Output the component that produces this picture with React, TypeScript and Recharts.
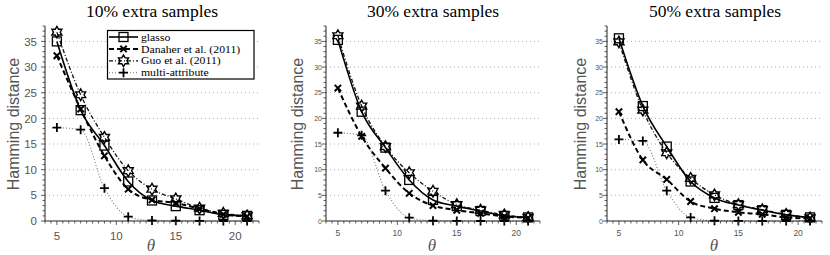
import React from 'react';
import { LineChart, Line, XAxis, YAxis, ReferenceLine } from 'recharts';

// theta values where the markers sit
const theta = [5, 7, 9, 11, 13, 15, 17, 19, 21];

// 10% extra samples
const glasso10 = [35.0, 21.6, 14.7, 7.7, 4.0, 2.9, 2.1, 1.2, 1.0];
const danaher10 = [32.2, 21.8, 12.7, 6.2, 4.1, 3.5, 2.4, 1.3, 0.9];
const guo10 = [36.8, 24.6, 16.3, 9.8, 6.2, 4.3, 2.5, 1.5, 1.0];
const multi10 = [18.2, 17.8, 6.4, 0.85, 0.1, 0.05, 0.02, 0, 0];

// 30% extra samples
const glasso30 = [35.3, 21.3, 14.3, 8.0, 4.1, 2.9, 1.95, 1.0, 0.7];
const danaher30 = [25.9, 16.5, 10.3, 5.4, 3.0, 2.1, 1.5, 0.9, 0.6];
const guo30 = [36.1, 22.4, 14.5, 9.4, 5.8, 3.2, 2.1, 1.2, 0.7];
const multi30 = [17.2, 16.7, 5.9, 0.65, 0.05, 0.02, 0, 0, 0];

// 50% extra samples
const glasso50 = [35.6, 22.4, 14.5, 7.7, 4.5, 3.1, 2.1, 1.2, 0.7];
const danaher50 = [21.3, 11.9, 8.1, 3.8, 2.4, 1.7, 1.3, 0.7, 0.5];
const guo50 = [34.9, 21.6, 13.3, 8.3, 5.1, 3.2, 2.2, 1.3, 0.6];
const multi50 = [15.9, 15.6, 5.9, 0.7, 0.05, 0.02, 0, 0, 0];

const titles = ['10% extra samples', '30% extra samples', '50% extra samples'];
const legendNames = ['glasso', 'Danaher et al. (2011)', 'Guo et al. (2011)', 'multi-attribute'];

const xLabelTicks = [5, 10, 15, 20];
const yLabelTicks = [0, 5, 10, 15, 20, 25, 30, 35];
const gridValues = [5, 10, 15, 20, 25, 30, 35];

const xMinor: number[] = [];
for (let v = 4; v <= 22; v += 0.5) xMinor.push(v);
const yMinor: number[] = [];
for (let v = 0; v <= 38; v += 1) yMinor.push(v);

const rows = (g: number[], d: number[], u: number[], m: number[]) =>
  theta.map((t, i) => ({ theta: t, glasso: g[i], danaher: d[i], guo: u[i], multi: m[i] }));

const panels = [
  { data: rows(glasso10, danaher10, guo10, multi10), left: 0, width: 280, ml: 25, mr: 21, big: true },
  { data: rows(glasso30, danaher30, guo30, multi30), left: 280, width: 280, ml: 26, mr: 20, big: false },
  { data: rows(glasso50, danaher50, guo50, multi50), left: 555, width: 275, ml: 32, mr: 8, big: false },
];

const SERIF = '"Liberation Serif", "Times New Roman", serif';
const SANS = '"Liberation Sans", Arial, sans-serif';

const hexPath = (cx: number, cy: number, R: number) => {
  const r = R / Math.sqrt(3);
  let d = '';
  for (let i = 0; i < 12; i++) {
    const a = ((-90 + i * 30) * Math.PI) / 180;
    const rr = i % 2 === 0 ? R : r;
    d += (i === 0 ? 'M' : 'L') + (cx + rr * Math.cos(a)).toFixed(2) + ',' + (cy + rr * Math.sin(a)).toFixed(2);
  }
  return d + 'Z';
};

const Marker = ({ kind, cx, cy }: { kind: string; cx: number; cy: number }) => {
  if (kind === 'square')
    return <rect x={cx - 4.5} y={cy - 4.5} width={9} height={9} fill="none" stroke="#000" strokeWidth={1.3} />;
  if (kind === 'x')
    return (
      <path d={`M${cx - 3.2},${cy - 3.2}L${cx + 3.2},${cy + 3.2}M${cx - 3.2},${cy + 3.2}L${cx + 3.2},${cy - 3.2}`} stroke="#000" strokeWidth={2} />
    );
  if (kind === 'star') return <path d={hexPath(cx, cy, 5.8)} fill="none" stroke="#000" strokeWidth={1.4} />;
  return <path d={`M${cx - 4.5},${cy}L${cx + 4.5},${cy}M${cx},${cy - 4.5}L${cx},${cy + 4.5}`} stroke="#000" strokeWidth={1.8} />;
};

const dotFor = (kind: string) => (p: any) => {
  if (p.cx == null || p.cy == null) return <g key={p.index} />;
  return (
    <g key={p.index}>
      <Marker kind={kind} cx={p.cx} cy={p.cy} />
    </g>
  );
};

const series = [
  { key: 'multi', kind: 'plus', stroke: '#777', width: 1.1, dash: '1 2' },
  { key: 'guo', kind: 'star', stroke: '#111', width: 1.3, dash: '4 2 1 2' },
  { key: 'danaher', kind: 'x', stroke: '#000', width: 2, dash: '5 3' },
  { key: 'glasso', kind: 'square', stroke: '#000', width: 1.6, dash: undefined },
];

const YTick = (props: any) => {
  const { x, y, payload, fs, gap } = props;
  const v = payload.value;
  const labeled = yLabelTicks.includes(v);
  return (
    <g>
      <line x1={x - (labeled ? 4 : 2.5)} x2={x} y1={y} y2={y} stroke="#333" strokeWidth={0.8} />
      {labeled && (
        <text x={x - gap} y={y} dy="0.36em" textAnchor="end" fontSize={fs} fill="#555" fontFamily={SANS}>
          {v}
        </text>
      )}
    </g>
  );
};

const XTick = (props: any) => {
  const { x, y, payload, fs, off } = props;
  const v = payload.value;
  const labeled = xLabelTicks.includes(v);
  return (
    <g>
      <line x1={x} x2={x} y1={y} y2={y + (labeled ? 4 : 2.5)} stroke="#333" strokeWidth={0.8} />
      {labeled && (
        <text x={x} y={y + off} textAnchor="middle" fontSize={fs} fill="#555" fontFamily={SANS}>
          {v}
        </text>
      )}
    </g>
  );
};

const Panel = ({ p }: { p: (typeof panels)[number] }) => (
  <div style={{ position: 'absolute', left: p.left, top: 0 }}>
    <LineChart width={p.width} height={255} data={p.data} margin={{ top: 26, right: p.mr, bottom: 4, left: p.ml }}>
      {gridValues.map((g) => (
        <ReferenceLine key={g} y={g} stroke="#aaa" strokeWidth={1} strokeDasharray="1 3" />
      ))}
      <XAxis
        dataKey="theta"
        type="number"
        domain={[4, 22]}
        ticks={xMinor}
        interval={0}
        height={30}
        tickSize={0}
        tickMargin={0}
        tickLine={false}
        axisLine={{ stroke: '#222', strokeWidth: 1 }}
        tick={<XTick fs={p.big ? 11.5 : 8.5} off={p.big ? 19 : 15} />}
      />
      <YAxis
        type="number"
        domain={[0, 38]}
        ticks={yMinor}
        interval={0}
        width={20}
        tickSize={0}
        tickMargin={0}
        tickLine={false}
        axisLine={{ stroke: '#222', strokeWidth: 1 }}
        tick={<YTick fs={p.big ? 11.5 : 7} gap={p.big ? 8 : 4} />}
      />
      {series.map((s) => (
        <Line
          key={s.key}
          dataKey={s.key}
          type="monotone"
          stroke={s.stroke}
          strokeWidth={s.width}
          strokeDasharray={s.dash}
          dot={dotFor(s.kind)}
          activeDot={false}
          isAnimationActive={false}
        />
      ))}
    </LineChart>
  </div>
);

const titleX = [152, 433, 715];
const yLabelX = [13, 297, 580];
const legendKinds = ['square', 'x', 'star', 'plus'];
const legendStyle = [series[3], series[2], series[1], series[0]];

export default function App() {
  return (
    <div style={{ position: 'absolute', left: 0, top: 0, width: 830, height: 255, background: '#fff', overflow: 'hidden' }}>
      {panels.map((p, i) => (
        <Panel key={i} p={p} />
      ))}
      <svg width={830} height={255} style={{ position: 'absolute', left: 0, top: 0, pointerEvents: 'none' }}>
        {titles.map((t, i) => (
          <text key={t} x={titleX[i]} y={17} textAnchor="middle" fontFamily={SERIF} fontSize={17.5} fill="#000">
            {t}
          </text>
        ))}
        {yLabelX.map((x, i) => (
          <text
            key={i}
            transform={`translate(${x},124) rotate(-90)`}
            textAnchor="middle"
            dy="0.35em"
            fontFamily={SANS}
            fontSize={16}
            fill="#555"
          >
            Hamming distance
          </text>
        ))}
        {titleX.map((x, i) => (
          <text key={i} x={x - 1} y={251} textAnchor="middle" fontFamily={SERIF} fontStyle="italic" fontSize={17} fill="#555">
            θ
          </text>
        ))}
        <rect x={107.5} y={30.5} width={146.5} height={48.5} fill="#fff" stroke="#000" strokeWidth={1.2} />
        {legendNames.map((n, i) => {
          const y = 37 + i * 11.9;
          const s = legendStyle[i];
          return (
            <g key={n}>
              <line x1={109} x2={138} y1={y} y2={y} stroke={s.stroke} strokeWidth={s.width} strokeDasharray={s.dash} />
              <Marker kind={legendKinds[i]} cx={123.5} cy={y} />
              <g transform={`translate(141,${y + 3.6}) scale(1.14,1)`}>
                <text x={0} y={0} fontFamily={SERIF} fontSize={10.3} fill="#000">
                  {n}
                </text>
              </g>
            </g>
          );
        })}
      </svg>
    </div>
  );
}
